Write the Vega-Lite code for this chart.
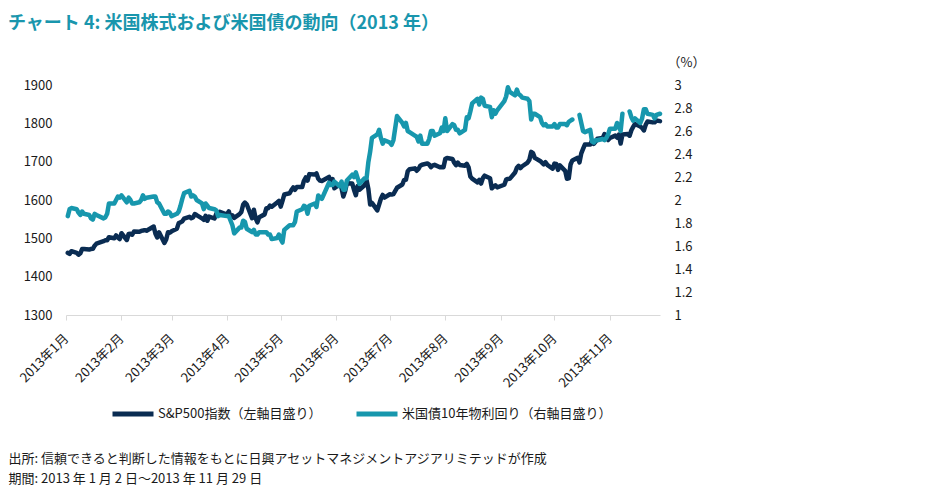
{
  "$schema": "https://vega.github.io/schema/vega-lite/v6.json",
  "width": 594,
  "height": 230,
  "autosize": {"type": "none"},
  "padding": {"left": 66, "top": 85, "right": 269, "bottom": 180},
  "background": "white",
  "config": {
    "font": "Noto Sans CJK JP",
    "view": {"stroke": null},
    "axis": {"grid": false, "labelFontSize": 13, "labelColor": "#1a1a1a", "titleColor": "#1a1a1a", "titleFontWeight": "normal", "titleFontSize": 13}
  },
  "title": {
    "text": "チャート 4: 米国株式および米国債の動向（2013 年）",
    "anchor": "start",
    "frame": "group",
    "dx": -58,
    "fontSize": 18,
    "fontWeight": "bold",
    "color": "#1996ad",
    "offset": 23
  },
  "data": {
    "values": [
      {"d": "2013-01-02", "sp": 1462.4, "ust": 1.86},
      {"d": "2013-01-03", "sp": 1459.4, "ust": 1.92},
      {"d": "2013-01-04", "sp": 1466.5, "ust": 1.93},
      {"d": "2013-01-07", "sp": 1461.9, "ust": 1.92},
      {"d": "2013-01-08", "sp": 1457.2, "ust": 1.89},
      {"d": "2013-01-09", "sp": 1461.0, "ust": 1.87},
      {"d": "2013-01-10", "sp": 1472.1, "ust": 1.90},
      {"d": "2013-01-11", "sp": 1472.1, "ust": 1.88},
      {"d": "2013-01-14", "sp": 1470.7, "ust": 1.87},
      {"d": "2013-01-15", "sp": 1472.3, "ust": 1.84},
      {"d": "2013-01-16", "sp": 1472.6, "ust": 1.83},
      {"d": "2013-01-17", "sp": 1480.9, "ust": 1.88},
      {"d": "2013-01-18", "sp": 1486.0, "ust": 1.87},
      {"d": "2013-01-22", "sp": 1492.6, "ust": 1.84},
      {"d": "2013-01-23", "sp": 1494.8, "ust": 1.85},
      {"d": "2013-01-24", "sp": 1494.8, "ust": 1.88},
      {"d": "2013-01-25", "sp": 1503.0, "ust": 1.97},
      {"d": "2013-01-28", "sp": 1500.2, "ust": 1.97},
      {"d": "2013-01-29", "sp": 1507.8, "ust": 2.00},
      {"d": "2013-01-30", "sp": 1502.0, "ust": 2.03},
      {"d": "2013-01-31", "sp": 1498.1, "ust": 2.02},
      {"d": "2013-02-01", "sp": 1513.2, "ust": 2.04},
      {"d": "2013-02-04", "sp": 1495.7, "ust": 1.98},
      {"d": "2013-02-05", "sp": 1511.3, "ust": 2.02},
      {"d": "2013-02-06", "sp": 1512.1, "ust": 2.00},
      {"d": "2013-02-07", "sp": 1509.4, "ust": 1.97},
      {"d": "2013-02-08", "sp": 1517.9, "ust": 1.97},
      {"d": "2013-02-11", "sp": 1517.0, "ust": 1.98},
      {"d": "2013-02-12", "sp": 1519.4, "ust": 2.00},
      {"d": "2013-02-13", "sp": 1520.3, "ust": 2.04},
      {"d": "2013-02-14", "sp": 1521.4, "ust": 2.01},
      {"d": "2013-02-15", "sp": 1519.8, "ust": 2.02},
      {"d": "2013-02-19", "sp": 1530.9, "ust": 2.03},
      {"d": "2013-02-20", "sp": 1512.0, "ust": 2.03},
      {"d": "2013-02-21", "sp": 1502.4, "ust": 1.98},
      {"d": "2013-02-22", "sp": 1515.6, "ust": 1.97},
      {"d": "2013-02-25", "sp": 1487.9, "ust": 1.88},
      {"d": "2013-02-26", "sp": 1496.9, "ust": 1.88},
      {"d": "2013-02-27", "sp": 1516.0, "ust": 1.90},
      {"d": "2013-02-28", "sp": 1514.7, "ust": 1.89},
      {"d": "2013-03-01", "sp": 1518.2, "ust": 1.86},
      {"d": "2013-03-04", "sp": 1525.2, "ust": 1.88},
      {"d": "2013-03-05", "sp": 1539.8, "ust": 1.90},
      {"d": "2013-03-06", "sp": 1541.5, "ust": 1.95},
      {"d": "2013-03-07", "sp": 1544.3, "ust": 2.01},
      {"d": "2013-03-08", "sp": 1551.2, "ust": 2.06},
      {"d": "2013-03-11", "sp": 1556.2, "ust": 2.08},
      {"d": "2013-03-12", "sp": 1552.5, "ust": 2.03},
      {"d": "2013-03-13", "sp": 1554.5, "ust": 2.04},
      {"d": "2013-03-14", "sp": 1563.2, "ust": 2.03},
      {"d": "2013-03-15", "sp": 1560.7, "ust": 2.00},
      {"d": "2013-03-18", "sp": 1552.1, "ust": 1.97},
      {"d": "2013-03-19", "sp": 1548.3, "ust": 1.92},
      {"d": "2013-03-20", "sp": 1558.7, "ust": 1.97},
      {"d": "2013-03-21", "sp": 1545.8, "ust": 1.95},
      {"d": "2013-03-22", "sp": 1556.9, "ust": 1.93},
      {"d": "2013-03-25", "sp": 1551.7, "ust": 1.92},
      {"d": "2013-03-26", "sp": 1563.8, "ust": 1.91},
      {"d": "2013-03-27", "sp": 1562.9, "ust": 1.86},
      {"d": "2013-03-28", "sp": 1569.2, "ust": 1.87},
      {"d": "2013-04-01", "sp": 1562.2, "ust": 1.86},
      {"d": "2013-04-02", "sp": 1570.3, "ust": 1.86},
      {"d": "2013-04-03", "sp": 1553.7, "ust": 1.82},
      {"d": "2013-04-04", "sp": 1560.0, "ust": 1.78},
      {"d": "2013-04-05", "sp": 1553.3, "ust": 1.71},
      {"d": "2013-04-08", "sp": 1563.1, "ust": 1.76},
      {"d": "2013-04-09", "sp": 1568.6, "ust": 1.76},
      {"d": "2013-04-10", "sp": 1587.7, "ust": 1.82},
      {"d": "2013-04-11", "sp": 1593.4, "ust": 1.81},
      {"d": "2013-04-12", "sp": 1588.9, "ust": 1.75},
      {"d": "2013-04-15", "sp": 1552.4, "ust": 1.72},
      {"d": "2013-04-16", "sp": 1574.6, "ust": 1.74},
      {"d": "2013-04-17", "sp": 1552.0, "ust": 1.70},
      {"d": "2013-04-18", "sp": 1541.6, "ust": 1.70},
      {"d": "2013-04-19", "sp": 1555.3, "ust": 1.72},
      {"d": "2013-04-22", "sp": 1562.5, "ust": 1.72},
      {"d": "2013-04-23", "sp": 1578.8, "ust": 1.72},
      {"d": "2013-04-24", "sp": 1578.8, "ust": 1.70},
      {"d": "2013-04-25", "sp": 1585.2, "ust": 1.70},
      {"d": "2013-04-26", "sp": 1582.2, "ust": 1.66},
      {"d": "2013-04-29", "sp": 1593.6, "ust": 1.67},
      {"d": "2013-04-30", "sp": 1597.6, "ust": 1.70},
      {"d": "2013-05-01", "sp": 1582.7, "ust": 1.66},
      {"d": "2013-05-02", "sp": 1597.6, "ust": 1.63},
      {"d": "2013-05-03", "sp": 1614.4, "ust": 1.74},
      {"d": "2013-05-06", "sp": 1617.5, "ust": 1.78},
      {"d": "2013-05-07", "sp": 1626.0, "ust": 1.78},
      {"d": "2013-05-08", "sp": 1632.7, "ust": 1.78},
      {"d": "2013-05-09", "sp": 1626.7, "ust": 1.81},
      {"d": "2013-05-10", "sp": 1633.7, "ust": 1.90},
      {"d": "2013-05-13", "sp": 1633.8, "ust": 1.92},
      {"d": "2013-05-14", "sp": 1650.3, "ust": 1.95},
      {"d": "2013-05-15", "sp": 1658.8, "ust": 1.94},
      {"d": "2013-05-16", "sp": 1650.5, "ust": 1.88},
      {"d": "2013-05-17", "sp": 1667.5, "ust": 1.95},
      {"d": "2013-05-20", "sp": 1666.3, "ust": 1.97},
      {"d": "2013-05-21", "sp": 1669.2, "ust": 1.94},
      {"d": "2013-05-22", "sp": 1655.4, "ust": 2.04},
      {"d": "2013-05-23", "sp": 1650.5, "ust": 2.02},
      {"d": "2013-05-24", "sp": 1649.6, "ust": 2.01},
      {"d": "2013-05-28", "sp": 1660.1, "ust": 2.15},
      {"d": "2013-05-29", "sp": 1648.4, "ust": 2.13},
      {"d": "2013-05-30", "sp": 1654.4, "ust": 2.13},
      {"d": "2013-05-31", "sp": 1630.7, "ust": 2.16},
      {"d": "2013-06-03", "sp": 1640.4, "ust": 2.12},
      {"d": "2013-06-04", "sp": 1631.4, "ust": 2.16},
      {"d": "2013-06-05", "sp": 1608.9, "ust": 2.09},
      {"d": "2013-06-06", "sp": 1622.6, "ust": 2.09},
      {"d": "2013-06-07", "sp": 1643.4, "ust": 2.17},
      {"d": "2013-06-10", "sp": 1642.8, "ust": 2.22},
      {"d": "2013-06-11", "sp": 1626.1, "ust": 2.20},
      {"d": "2013-06-12", "sp": 1612.5, "ust": 2.24},
      {"d": "2013-06-13", "sp": 1636.4, "ust": 2.19},
      {"d": "2013-06-14", "sp": 1626.7, "ust": 2.14},
      {"d": "2013-06-17", "sp": 1639.0, "ust": 2.19},
      {"d": "2013-06-18", "sp": 1651.8, "ust": 2.19},
      {"d": "2013-06-19", "sp": 1628.9, "ust": 2.33},
      {"d": "2013-06-20", "sp": 1588.2, "ust": 2.42},
      {"d": "2013-06-21", "sp": 1592.4, "ust": 2.54},
      {"d": "2013-06-24", "sp": 1573.1, "ust": 2.57},
      {"d": "2013-06-25", "sp": 1588.0, "ust": 2.61},
      {"d": "2013-06-26", "sp": 1603.3, "ust": 2.54},
      {"d": "2013-06-27", "sp": 1613.2, "ust": 2.49},
      {"d": "2013-06-28", "sp": 1606.3, "ust": 2.52},
      {"d": "2013-07-01", "sp": 1615.0, "ust": 2.50},
      {"d": "2013-07-02", "sp": 1614.1, "ust": 2.48},
      {"d": "2013-07-03", "sp": 1615.4, "ust": 2.52},
      {"d": "2013-07-05", "sp": 1631.9, "ust": 2.73},
      {"d": "2013-07-08", "sp": 1640.5, "ust": 2.67},
      {"d": "2013-07-09", "sp": 1652.3, "ust": 2.64},
      {"d": "2013-07-10", "sp": 1652.6, "ust": 2.67},
      {"d": "2013-07-11", "sp": 1675.0, "ust": 2.60},
      {"d": "2013-07-12", "sp": 1680.2, "ust": 2.59},
      {"d": "2013-07-15", "sp": 1682.5, "ust": 2.56},
      {"d": "2013-07-16", "sp": 1676.3, "ust": 2.55},
      {"d": "2013-07-17", "sp": 1680.9, "ust": 2.51},
      {"d": "2013-07-18", "sp": 1689.4, "ust": 2.56},
      {"d": "2013-07-19", "sp": 1692.1, "ust": 2.49},
      {"d": "2013-07-22", "sp": 1695.5, "ust": 2.49},
      {"d": "2013-07-23", "sp": 1692.4, "ust": 2.53},
      {"d": "2013-07-24", "sp": 1685.9, "ust": 2.60},
      {"d": "2013-07-25", "sp": 1690.3, "ust": 2.60},
      {"d": "2013-07-26", "sp": 1691.7, "ust": 2.56},
      {"d": "2013-07-29", "sp": 1685.3, "ust": 2.58},
      {"d": "2013-07-30", "sp": 1686.0, "ust": 2.63},
      {"d": "2013-07-31", "sp": 1685.7, "ust": 2.60},
      {"d": "2013-08-01", "sp": 1706.9, "ust": 2.71},
      {"d": "2013-08-02", "sp": 1709.7, "ust": 2.60},
      {"d": "2013-08-05", "sp": 1707.1, "ust": 2.66},
      {"d": "2013-08-06", "sp": 1697.4, "ust": 2.65},
      {"d": "2013-08-07", "sp": 1690.9, "ust": 2.61},
      {"d": "2013-08-08", "sp": 1697.5, "ust": 2.61},
      {"d": "2013-08-09", "sp": 1691.4, "ust": 2.58},
      {"d": "2013-08-12", "sp": 1689.5, "ust": 2.61},
      {"d": "2013-08-13", "sp": 1694.2, "ust": 2.72},
      {"d": "2013-08-14", "sp": 1685.4, "ust": 2.71},
      {"d": "2013-08-15", "sp": 1661.3, "ust": 2.77},
      {"d": "2013-08-16", "sp": 1655.8, "ust": 2.84},
      {"d": "2013-08-19", "sp": 1646.1, "ust": 2.88},
      {"d": "2013-08-20", "sp": 1652.4, "ust": 2.83},
      {"d": "2013-08-21", "sp": 1642.8, "ust": 2.89},
      {"d": "2013-08-22", "sp": 1657.0, "ust": 2.88},
      {"d": "2013-08-23", "sp": 1663.5, "ust": 2.82},
      {"d": "2013-08-26", "sp": 1656.8, "ust": 2.81},
      {"d": "2013-08-27", "sp": 1630.5, "ust": 2.72},
      {"d": "2013-08-28", "sp": 1635.0, "ust": 2.78},
      {"d": "2013-08-29", "sp": 1638.2, "ust": 2.75},
      {"d": "2013-08-30", "sp": 1633.0, "ust": 2.78},
      {"d": "2013-09-03", "sp": 1639.8, "ust": 2.86},
      {"d": "2013-09-04", "sp": 1653.1, "ust": 2.90},
      {"d": "2013-09-05", "sp": 1655.1, "ust": 2.98},
      {"d": "2013-09-06", "sp": 1655.2, "ust": 2.94},
      {"d": "2013-09-09", "sp": 1671.7, "ust": 2.91},
      {"d": "2013-09-10", "sp": 1684.0, "ust": 2.96},
      {"d": "2013-09-11", "sp": 1689.1, "ust": 2.92},
      {"d": "2013-09-12", "sp": 1683.4, "ust": 2.91},
      {"d": "2013-09-13", "sp": 1688.0, "ust": 2.89},
      {"d": "2013-09-16", "sp": 1697.6, "ust": 2.88},
      {"d": "2013-09-17", "sp": 1704.8, "ust": 2.86},
      {"d": "2013-09-18", "sp": 1725.5, "ust": 2.70},
      {"d": "2013-09-19", "sp": 1722.3, "ust": 2.75},
      {"d": "2013-09-20", "sp": 1709.9, "ust": 2.75},
      {"d": "2013-09-23", "sp": 1701.8, "ust": 2.72},
      {"d": "2013-09-24", "sp": 1697.4, "ust": 2.67},
      {"d": "2013-09-25", "sp": 1692.8, "ust": 2.65},
      {"d": "2013-09-26", "sp": 1698.7, "ust": 2.66},
      {"d": "2013-09-27", "sp": 1691.8, "ust": 2.64},
      {"d": "2013-09-30", "sp": 1681.6, "ust": 2.64},
      {"d": "2013-10-01", "sp": 1695.0, "ust": 2.66},
      {"d": "2013-10-02", "sp": 1693.9, "ust": 2.63},
      {"d": "2013-10-03", "sp": 1678.7, "ust": 2.63},
      {"d": "2013-10-04", "sp": 1690.5, "ust": 2.66},
      {"d": "2013-10-07", "sp": 1676.1, "ust": 2.66},
      {"d": "2013-10-08", "sp": 1655.5, "ust": 2.65},
      {"d": "2013-10-09", "sp": 1656.4, "ust": 2.68},
      {"d": "2013-10-10", "sp": 1692.6, "ust": 2.69},
      {"d": "2013-10-11", "sp": 1703.2, "ust": 2.70},
      {"d": "2013-10-14", "sp": 1710.1, "ust": null},
      {"d": "2013-10-15", "sp": 1698.1, "ust": 2.74},
      {"d": "2013-10-16", "sp": 1721.5, "ust": 2.67},
      {"d": "2013-10-17", "sp": 1733.2, "ust": 2.60},
      {"d": "2013-10-18", "sp": 1744.5, "ust": 2.59},
      {"d": "2013-10-21", "sp": 1744.7, "ust": 2.61},
      {"d": "2013-10-22", "sp": 1754.7, "ust": 2.51},
      {"d": "2013-10-23", "sp": 1746.4, "ust": 2.50},
      {"d": "2013-10-24", "sp": 1752.1, "ust": 2.52},
      {"d": "2013-10-25", "sp": 1759.8, "ust": 2.52},
      {"d": "2013-10-28", "sp": 1762.1, "ust": 2.53},
      {"d": "2013-10-29", "sp": 1772.0, "ust": 2.52},
      {"d": "2013-10-30", "sp": 1763.3, "ust": 2.54},
      {"d": "2013-10-31", "sp": 1756.5, "ust": 2.57},
      {"d": "2013-11-01", "sp": 1761.6, "ust": 2.62},
      {"d": "2013-11-04", "sp": 1767.9, "ust": 2.62},
      {"d": "2013-11-05", "sp": 1763.0, "ust": 2.67},
      {"d": "2013-11-06", "sp": 1770.5, "ust": 2.64},
      {"d": "2013-11-07", "sp": 1747.2, "ust": 2.60},
      {"d": "2013-11-08", "sp": 1770.6, "ust": 2.75},
      {"d": "2013-11-11", "sp": 1771.9, "ust": null},
      {"d": "2013-11-12", "sp": 1767.7, "ust": 2.77},
      {"d": "2013-11-13", "sp": 1782.0, "ust": 2.72},
      {"d": "2013-11-14", "sp": 1790.6, "ust": 2.69},
      {"d": "2013-11-15", "sp": 1798.2, "ust": 2.71},
      {"d": "2013-11-18", "sp": 1791.5, "ust": 2.67},
      {"d": "2013-11-19", "sp": 1787.9, "ust": 2.71},
      {"d": "2013-11-20", "sp": 1781.4, "ust": 2.79},
      {"d": "2013-11-21", "sp": 1795.9, "ust": 2.79},
      {"d": "2013-11-22", "sp": 1804.8, "ust": 2.75},
      {"d": "2013-11-25", "sp": 1802.5, "ust": 2.74},
      {"d": "2013-11-26", "sp": 1802.8, "ust": 2.71},
      {"d": "2013-11-27", "sp": 1807.2, "ust": 2.74},
      {"d": "2013-11-29", "sp": 1805.8, "ust": 2.75}
    ]
  },
  "encoding": {
    "x": {
      "field": "d",
      "type": "temporal",
      "scale": {
        "type": "utc",
        "domain": [
          {"year": 2013, "month": 1, "date": 1, "utc": true},
          {"year": 2013, "month": 11, "date": 29, "utc": true}
        ]
      },
      "axis": {
        "values": [
          {"year": 2013, "month": 1, "date": 1, "utc": true},
          {"year": 2013, "month": 2, "date": 1, "utc": true},
          {"year": 2013, "month": 3, "date": 1, "utc": true},
          {"year": 2013, "month": 4, "date": 1, "utc": true},
          {"year": 2013, "month": 5, "date": 1, "utc": true},
          {"year": 2013, "month": 6, "date": 1, "utc": true},
          {"year": 2013, "month": 7, "date": 1, "utc": true},
          {"year": 2013, "month": 8, "date": 1, "utc": true},
          {"year": 2013, "month": 9, "date": 1, "utc": true},
          {"year": 2013, "month": 10, "date": 1, "utc": true},
          {"year": 2013, "month": 11, "date": 1, "utc": true}
        ],
        "labelExpr": "utcFormat(datum.value, '%Y') + '年' + (utcmonth(datum.value) + 1) + '月'",
        "labelAngle": -45,
        "labelAlign": "right",
        "labelBaseline": "middle",
        "labelPadding": 16,
        "labelOverlap": false,
        "labelFlush": false,
        "labelFontSize": 13,
        "tickSize": 5,
        "tickColor": "#d9d9d9",
        "domainColor": "#d9d9d9",
        "title": [
          "出所: 信頼できると判断した情報をもとに日興アセットマネジメントアジアリミテッドが作成",
          "期間: 2013 年 1 月 2 日～2013 年 11 月 29 日"
        ],
        "titleX": -58,
        "titleY": 137,
        "titleAlign": "left",
        "titleAnchor": "start",
        "titleBaseline": "top",
        "titleLineHeight": 20,
        "titleFontSize": 13
      }
    }
  },
  "layer": [
    {
      "mark": {"type": "line", "strokeWidth": 4.5, "strokeJoin": "round", "strokeCap": "round"},
      "encoding": {
        "y": {
          "field": "sp",
          "type": "quantitative",
          "scale": {"domain": [1300, 1900], "nice": false, "zero": false},
          "axis": {
            "values": [1300, 1400, 1500, 1600, 1700, 1800, 1900],
            "format": "d",
            "domain": false,
            "ticks": false,
            "tickSize": 0,
            "labelPadding": 14,
            "title": null
          }
        },
        "color": {
          "datum": "S&P500指数（左軸目盛り）",
          "type": "nominal",
          "scale": {
            "domain": ["S&P500指数（左軸目盛り）", "米国債10年物利回り（右軸目盛り）"],
            "range": ["#0a2c52", "#1797ad"]
          },
          "legend": {
            "orient": "none",
            "legendX": 44,
            "legendY": 306,
            "direction": "horizontal",
            "title": null,
            "symbolType": "stroke",
            "symbolStrokeWidth": 5,
            "symbolSize": 1681,
            "labelFontSize": 13,
            "labelColor": "#1a1a1a",
            "labelOffset": 2,
            "columnPadding": 24,
            "labelLimit": 400,
            "padding": 0
          }
        }
      }
    },
    {
      "mark": {"type": "line", "strokeWidth": 4.5, "strokeJoin": "round", "strokeCap": "round"},
      "encoding": {
        "y": {
          "field": "ust",
          "type": "quantitative",
          "scale": {"domain": [1, 3], "nice": false, "zero": false},
          "axis": {
            "orient": "right",
            "values": [1, 1.2, 1.4, 1.6, 1.8, 2, 2.2, 2.4, 2.6, 2.8, 3],
            "format": "~g",
            "domain": false,
            "ticks": false,
            "tickSize": 0,
            "labelPadding": 14,
            "title": "（%）",
            "titleAngle": 0,
            "titleX": 7,
            "titleY": -23,
            "titleAlign": "left",
            "titleBaseline": "middle"
          }
        },
        "color": {"datum": "米国債10年物利回り（右軸目盛り）", "type": "nominal"}
      }
    }
  ],
  "resolve": {"scale": {"y": "independent"}}
}
